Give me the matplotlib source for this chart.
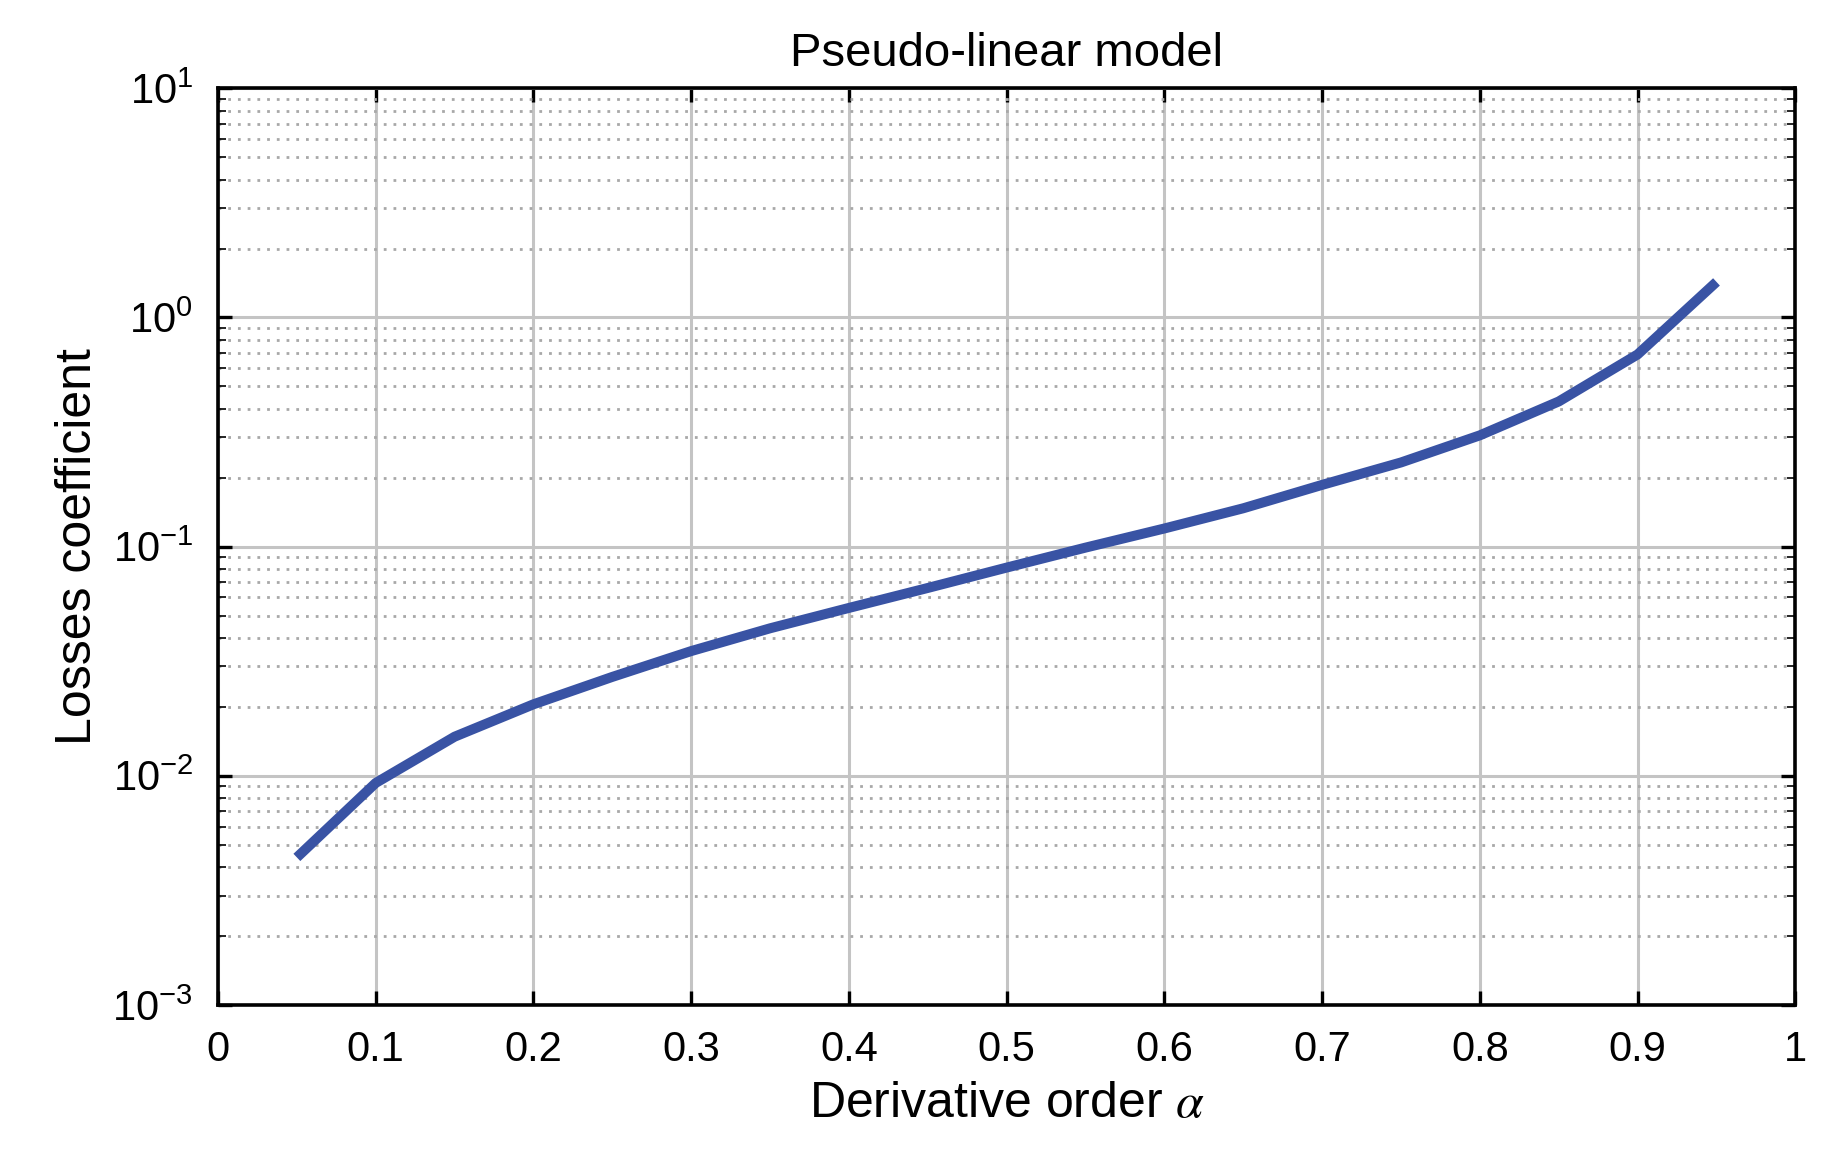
import matplotlib.pyplot as plt
from matplotlib.ticker import LogLocator, NullFormatter

plt.rcParams["font.family"] = ["Liberation Sans", "DejaVu Sans"]
plt.rcParams["mathtext.fontset"] = "stix"

alpha = [0.05, 0.10, 0.15, 0.20, 0.25, 0.30, 0.35, 0.40, 0.45, 0.50,
         0.55, 0.60, 0.65, 0.70, 0.75, 0.80, 0.85, 0.90, 0.95]
losses = [0.0044, 0.0093, 0.0148, 0.0205, 0.027, 0.035, 0.044, 0.054, 0.066, 0.081,
          0.099, 0.12, 0.147, 0.186, 0.233, 0.306, 0.43, 0.69, 1.43]
xticks = [0, 0.1, 0.2, 0.3, 0.4, 0.5, 0.6, 0.7, 0.8, 0.9, 1]
xlabels = ["0", "0.1", "0.2", "0.3", "0.4", "0.5", "0.6", "0.7", "0.8", "0.9", "1"]

fig = plt.figure(figsize=(9.16, 5.815), dpi=200)
ax = fig.add_axes([0.119, 0.136, 0.861, 0.788])
ax.plot(alpha, losses, color="#3953a4", lw=3.6, solid_capstyle="butt")
ax.set_yscale("log")
ax.set_xlim(0, 1)
ax.set_ylim(1e-3, 10)
ax.set_xticks(xticks)
ax.set_xticklabels(xlabels)
ax.yaxis.set_minor_locator(LogLocator(base=10, subs=range(2, 10)))
ax.yaxis.set_minor_formatter(NullFormatter())
ax.grid(True, which="major", color="#c4c4c4", lw=1.1)
ax.grid(True, which="minor", axis="y", color="#a8a8a8", lw=1.0, ls=(0, (1, 2.5)))
ax.tick_params(which="both", direction="in", top=True, right=True, labelsize=15, pad=9)
ax.tick_params(which="major", length=5, width=1.2)
ax.tick_params(which="minor", length=3)
for s in ax.spines.values():
    s.set_linewidth(1.3)
ax.set_xlabel(r"Derivative order $\alpha$", fontsize=18, labelpad=4)
ax.set_ylabel("Losses coefficient", fontsize=18, labelpad=4)
ax.set_title("Pseudo-linear model", fontsize=17, pad=8)
fig.savefig("out.png")
